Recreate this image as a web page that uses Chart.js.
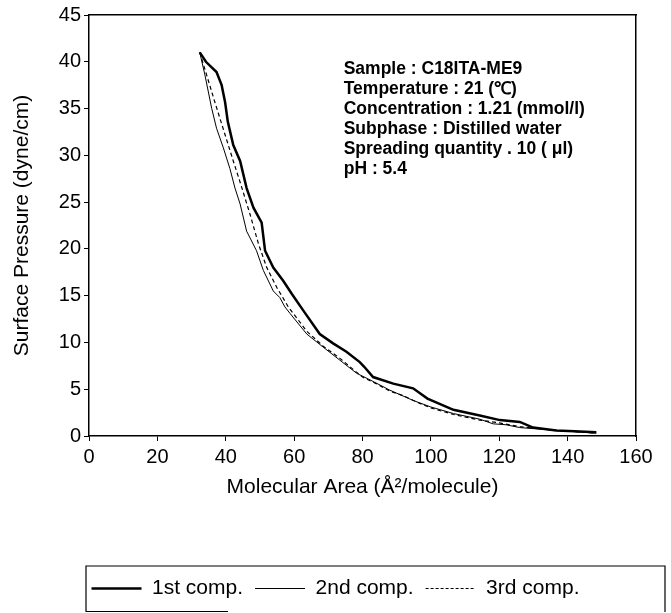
<!DOCTYPE html>
<html>
<head>
<meta charset="utf-8">
<script src="https://cdn.jsdelivr.net/npm/chart.js@4.4.1/dist/chart.umd.min.js"></script>
<style>
  html, body { margin: 0; padding: 0; background: #fff; }
  #wrap { width: 671px; height: 613px; position: relative; }
</style>
</head>
<body>
<div id="wrap"><canvas id="isotherm"></canvas></div>
<script>
// pi-A isotherm, three compressions
const area1 = [32.4, 34.2, 37.3, 38.8, 39.8, 40.6, 42.2, 44.2, 46.1, 48.1, 50.5, 51.5, 53.9, 56.8, 59.3, 62.7, 67.5, 71.4, 75.3, 79.2, 80.5, 83.1, 89.0, 94.8, 99.0, 106.6, 114.3, 120.2, 126.0, 129.9, 136.7, 142.0, 148.4];
const pressure1 = [41.0, 40.0, 38.9, 37.5, 35.7, 33.6, 31.1, 29.4, 26.5, 24.4, 22.8, 19.8, 18.0, 16.6, 15.2, 13.4, 10.9, 9.9, 9.0, 7.9, 7.4, 6.3, 5.6, 5.1, 4.0, 2.8, 2.2, 1.7, 1.5, 0.9, 0.6, 0.5, 0.4];

const area2 = [32.4, 33.9, 35.9, 37.3, 39.3, 41.2, 42.7, 44.2, 46.1, 49.0, 51.0, 53.9, 55.8, 57.3, 58.8, 63.7, 68.5, 73.4, 78.3, 82.2, 88.0, 94.8, 100.0, 106.6, 114.3, 118.2, 122.0, 126.0, 136.7, 148.4];
const pressure2 = [41.0, 38.6, 35.0, 32.9, 30.8, 28.6, 26.5, 24.8, 21.9, 19.8, 17.7, 15.5, 14.8, 13.8, 13.1, 10.9, 9.5, 8.1, 6.7, 6.0, 4.9, 3.8, 3.1, 2.4, 1.8, 1.3, 1.2, 0.9, 0.6, 0.3];

const area3 = [32.4, 34.4, 36.8, 39.8, 42.2, 44.4, 47.1, 49.6, 52.0, 54.9, 58.3, 63.7, 68.5, 73.4, 77.0, 80.0, 84.0, 88.0, 92.0, 96.0, 100.0, 106.6, 114.3, 120.0, 126.0, 136.7, 148.4];
const pressure3 = [41.0, 38.6, 35.7, 32.2, 29.4, 26.9, 23.7, 20.5, 18.0, 15.9, 13.8, 11.2, 9.6, 8.3, 7.2, 6.3, 5.6, 4.8, 4.3, 3.6, 3.0, 2.3, 1.7, 1.4, 1.0, 0.6, 0.3];

const seriesNames = ['1st comp.', '2nd comp.', '3rd comp.'];
const xTickStep = 20;
const yTickStep = 5;
const infoLines = [
  'Sample : C18ITA-ME9',
  'Temperature : 21 (\u2103)',
  'Concentration : 1.21 (mmol/l)',
  'Subphase : Distilled water',
  'Spreading quantity . 10 ( \u03bcl)',
  'pH : 5.4'
];

const toPoints = (xs, ys) => xs.map((x, i) => ({ x: x, y: ys[i] }));

Chart.defaults.font.family = '"Liberation Sans", Arial, Helvetica, sans-serif';
Chart.defaults.color = '#000';

// sample info text + frame around the legend
const decorPlugin = {
  id: 'decor',
  afterDraw(chart) {
    const ctx = chart.ctx;
    ctx.save();
    ctx.fillStyle = '#000';
    ctx.font = 'bold 17.5px "Liberation Sans", Arial, sans-serif';
    ctx.textBaseline = 'middle';
    const tx = chart.scales.x.getPixelForValue(74.5);
    const ty = chart.scales.y.getPixelForValue(39.2);
    infoLines.forEach((t, i) => ctx.fillText(t, tx, ty + i * 20));

    const lg = chart.legend;
    ctx.strokeStyle = '#000';
    ctx.lineWidth = 1.2;
    ctx.beginPath();
    ctx.moveTo(86, 612);
    ctx.lineTo(86, lg.top);
    ctx.lineTo(665, lg.top);
    ctx.lineTo(665, 612);
    ctx.moveTo(86, 611.5);
    ctx.lineTo(228, 611.5);
    ctx.stroke();
    ctx.restore();
  }
};

// plain frame axes (top / right), no ticks or labels
const frameAxis = (pos, size) => ({
  type: 'linear',
  position: pos,
  min: 0,
  max: pos === 'top' ? 160 : 45,
  ticks: { display: false },
  grid: { drawOnChartArea: false, drawTicks: false },
  border: { display: true, color: '#000', width: 1.5 },
  afterFit(scale) {
    if (pos === 'top') scale.height = size; else scale.width = size;
  }
});

const ctx = document.getElementById('isotherm').getContext('2d');

new Chart(ctx, {
  type: 'scatter',
  data: {
    datasets: [{
      label: seriesNames[0],
      data: toPoints(area1, pressure1),
      showLine: true,
      borderColor: '#000',
      backgroundColor: '#000',
      borderWidth: 2.5,
      pointRadius: 0,
      tension: 0
    }, {
      label: seriesNames[1],
      data: toPoints(area2, pressure2),
      showLine: true,
      borderColor: '#000',
      backgroundColor: '#000',
      borderWidth: 1,
      pointRadius: 0,
      tension: 0
    }, {
      label: seriesNames[2],
      data: toPoints(area3, pressure3),
      showLine: true,
      borderColor: '#000',
      backgroundColor: '#000',
      borderWidth: 1.2,
      borderDash: [4, 3],
      pointRadius: 0,
      tension: 0
    }]
  },
  options: {
    responsive: true,
    maintainAspectRatio: false,
    animation: false,
    layout: { padding: { top: 0, right: 0, bottom: 4, left: 0 } },
    scales: {
      x: {
        type: 'linear',
        min: 0,
        max: 160,
        ticks: { stepSize: xTickStep, font: { size: 20 }, padding: 4, maxRotation: 0 },
        grid: { drawOnChartArea: false, drawTicks: true, tickLength: 5, color: '#000' },
        border: { display: true, color: '#000', width: 1.5 },
        title: {
          display: true,
          text: 'Molecular Area (\u00c5\u00b2/molecule)',
          font: { size: 21 },
          padding: { top: 4, bottom: 66 }
        },
        afterFit(scale) {
          const lh = scale.chart.legend ? scale.chart.legend.height : 43;
          scale.height = 613 - 436 - lh - 4;
        }
      },
      y: {
        type: 'linear',
        min: 0,
        max: 45,
        ticks: { stepSize: yTickStep, font: { size: 20 }, padding: 3 },
        grid: { drawOnChartArea: false, drawTicks: true, tickLength: 5, color: '#000' },
        border: { display: true, color: '#000', width: 1.5 },
        title: {
          display: true,
          text: 'Surface Pressure (dyne/cm)',
          font: { size: 21 },
          padding: { top: 10, bottom: 4 }
        },
        afterFit(scale) {
          scale.width = 89;
        }
      },
      xTop: frameAxis('top', 13),
      yRight: frameAxis('right', 35)
    },
    plugins: {
      legend: {
        display: true,
        position: 'bottom',
        labels: {
          usePointStyle: true,
          pointStyle: 'line',
          pointStyleWidth: 50,
          font: { size: 21 },
          padding: 12,
          color: '#000',
          generateLabels(chart) {
            const items = Chart.defaults.plugins.legend.labels.generateLabels(chart);
            items.forEach((item, i) => {
              const ds = chart.data.datasets[i];
              item.lineWidth = ds.borderWidth;
              item.lineDash = i === 2 ? [3, 2] : [];
            });
            return items;
          }
        }
      },
      tooltip: { enabled: false }
    }
  },
  plugins: [decorPlugin]
});
</script>
</body>
</html>
